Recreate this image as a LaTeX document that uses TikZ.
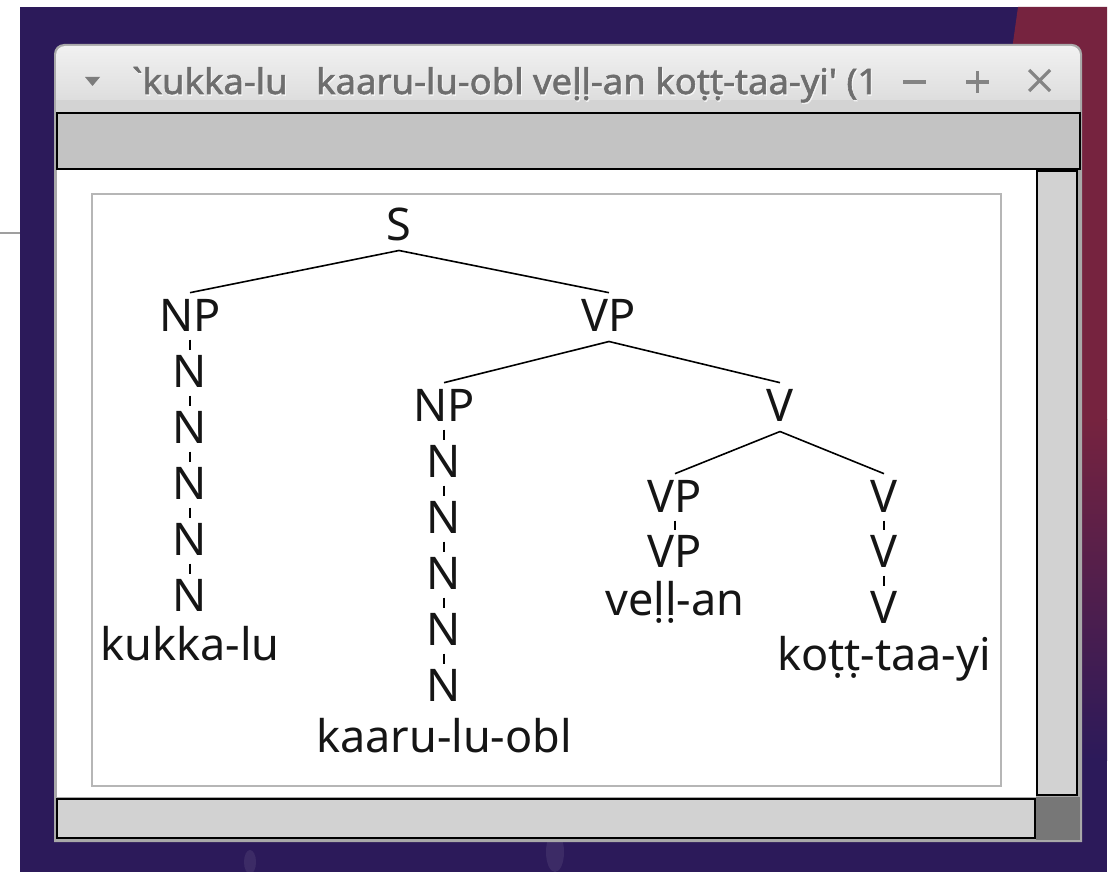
\documentclass[tikz,border=0pt]{standalone}
\usepackage{fontspec}
\setmainfont{Noto Sans}
\newfontfamily\titlefont[Ligatures=TeXOff, FakeBold=1.6]{Noto Sans}
\usetikzlibrary{calc}
\definecolor{deskpurple}{HTML}{2C1A5A}
\definecolor{deskred}{HTML}{76233F}
\definecolor{frame}{HTML}{A9A9A9}
\definecolor{barlight}{HTML}{F1F1F1}
\definecolor{bardark}{HTML}{D3D3D3}
\definecolor{toolbar}{HTML}{C3C3C3}
\definecolor{scroll}{HTML}{D2D2D2}
\definecolor{corner}{HTML}{777777}
\definecolor{boxline}{HTML}{B6B6B6}
\definecolor{titlegray}{HTML}{6E6E6E}
\definecolor{ink}{HTML}{151515}
\begin{document}
\begin{tikzpicture}[x=1pt,y=-1pt,
  lbl/.style={anchor=base, inner sep=0pt, font=\fontsize{45}{54}\selectfont, text=ink},
  branch/.style={line width=1.6pt, black},
  unary/.style={line width=1.6pt, black},
  btn/.style={line width=3.2pt, titlegray!85}]
\useasboundingbox (0,0) rectangle (1115,872);

% desktop
\fill[white] (0,0) rectangle (1115,872);
\fill[deskpurple] (20,7) rectangle (1107,872);
\fill[deskred] (1018,7) -- (1107,7) -- (1107,420) -- (960,420) -- cycle;
\shade[top color=deskred, bottom color=deskpurple] (1060,419) rectangle (1107,760);
\fill[white, opacity=0.08] (250,862) ellipse (6 and 12);
\fill[white, opacity=0.08] (555,852) ellipse (9 and 20);
\draw[gray!75, line width=1.5pt] (0,233) -- (20,233);

% window frame and title bar
\fill[frame] (54,842) [rounded corners=10pt] -- (54,44) -- (1082,44) [sharp corners] -- (1082,842) -- cycle;
\shade[top color=barlight, bottom color=bardark, rounded corners=9pt]
  (56,46) rectangle (1080,130);
\fill[bardark] (56,100) rectangle (1080,113);
\fill[titlegray!90] (85,77) -- (100,77) -- (92.5,86) -- cycle;
\node[anchor=base west, inner sep=0pt, text=white, opacity=0.6] at (133,95.5)
  {\resizebox{746pt}{27pt}{\titlefont `kukka-lu\ \ \ kaaru-lu-obl veḷḷ-an koṭṭ-taa-yi' (1}};
\node[anchor=base west, inner sep=0pt, text=titlegray] (title) at (132,94)
  {\resizebox{746pt}{27pt}{\titlefont `kukka-lu\ \ \ kaaru-lu-obl veḷḷ-an koṭṭ-taa-yi' (1}};
\draw[btn] (903,82) -- (926,82);
\draw[btn] (966,82) -- (989,82) (977.5,71) -- (977.5,93);
\draw[btn] (1029,70) -- (1050,91) (1029,91) -- (1050,70);

% toolbar, view area, scrollbars
\draw[black, line width=1.6pt, fill=toolbar] (57,113) rectangle (1080,169);
\fill[white] (57,170) rectangle (1036,797);
\draw[black, line width=2pt, fill=scroll] (1037,171) rectangle (1077,795);
\fill[corner] (1036,797) rectangle (1080,840);
\draw[black, line width=2pt, fill=scroll] (57,799) rectangle (1035,838);
\draw[boxline, line width=2pt] (92,194) rectangle (1001,786);

% syntax tree
\node[lbl] (S)   at (399,240) {S};
\node[lbl] (NPa) at (190,331) {NP};
\node[lbl] (VPa) at (609,331) {VP};
\node[lbl] (Na1) at (190,387) {N};
\node[lbl] (Na2) at (190,443) {N};
\node[lbl] (Na3) at (190,499) {N};
\node[lbl] (Na4) at (190,555) {N};
\node[lbl] (Na5) at (190,611) {N};
\node[lbl] (wa)  at (190,660) {kukka-lu};
\node[lbl] (NPb) at (444,421) {NP};
\node[lbl] (Va)  at (780,421) {V};
\node[lbl] (Nb1) at (444,477) {N};
\node[lbl] (Nb2) at (444,533) {N};
\node[lbl] (Nb3) at (444,589) {N};
\node[lbl] (Nb4) at (444,645) {N};
\node[lbl] (Nb5) at (444,701) {N};
\node[lbl] (wb)  at (444,752) {kaaru-lu-obl};
\node[lbl] (VPb) at (675,512) {VP};
\node[lbl] (Vb)  at (884,512) {V};
\node[lbl] (VPc) at (675,567) {VP};
\node[lbl] (wc)  at (675,615) {veḷḷ-an};
\node[lbl] (Vc)  at (884,567) {V};
\node[lbl] (Vd)  at (884,623) {V};
\node[lbl] (wd)  at (884,670) {koṭṭ-taa-yi};

\foreach \p/\c in {S/NPa, S/VPa, VPa/NPb, VPa/Va, Va/VPb, Va/Vb}
  \draw[branch] ($(\p.base)+(0,10.5)$) -- ($(\c.north)+(0,-6)$);
\foreach \p/\c in {NPa/Na1, Na1/Na2, Na2/Na3, Na3/Na4, Na4/Na5,
                   NPb/Nb1, Nb1/Nb2, Nb2/Nb3, Nb3/Nb4, Nb4/Nb5,
                   VPb/VPc, Vb/Vc, Vc/Vd}
  \draw[unary] ($(\p.base)+(0,8.5)$) -- ($(\c.north)+(0,-4.5)$);
\end{tikzpicture}
\end{document}
